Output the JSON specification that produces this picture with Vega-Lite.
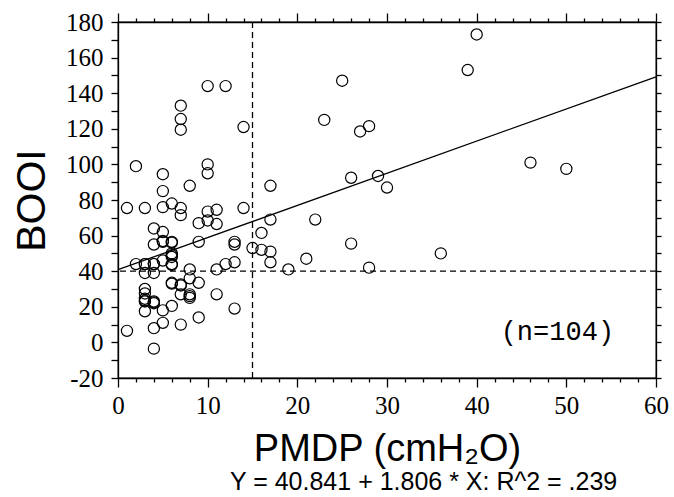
{
  "$schema": "https://vega.github.io/schema/vega-lite/v6.json",
  "width": 538,
  "height": 356,
  "autosize": "none",
  "padding": {"left": 118, "top": 22, "right": 18, "bottom": 119},
  "background": "white",
  "data": {"values": [{}]},
  "title": {
    "text": "Y = 40.841 + 1.806 * X: R^2 = .239",
    "orient": "bottom",
    "anchor": "start",
    "frame": "group",
    "dx": 112,
    "offset": 2,
    "font": "Liberation Sans",
    "fontSize": 25,
    "fontWeight": "normal",
    "color": "black"
  },
  "config": {
    "view": {"stroke": "black", "strokeWidth": 1.3},
    "axis": {
      "domainColor": "black",
      "domainWidth": 1.3,
      "tickColor": "black",
      "tickWidth": 1.3,
      "ticks": true,
      "grid": false,
      "labelFont": "Liberation Serif",
      "labelFontSize": 25,
      "labelColor": "black",
      "labelFlush": false,
      "labelOverlap": false,
      "titleFont": "Liberation Sans",
      "titleFontWeight": "normal",
      "titleColor": "black"
    }
  },
  "datasets": {
    "pts": [
      {"pmdp": 40, "booi": 173}, {"pmdp": 39, "booi": 153}, {"pmdp": 25, "booi": 147},
      {"pmdp": 10, "booi": 144}, {"pmdp": 12, "booi": 144}, {"pmdp": 7, "booi": 133},
      {"pmdp": 7, "booi": 125.5}, {"pmdp": 7, "booi": 119.5}, {"pmdp": 14, "booi": 121},
      {"pmdp": 23, "booi": 125}, {"pmdp": 27, "booi": 118.5}, {"pmdp": 28, "booi": 121.5},
      {"pmdp": 46, "booi": 101}, {"pmdp": 50, "booi": 97.5}, {"pmdp": 2, "booi": 99},
      {"pmdp": 10, "booi": 100}, {"pmdp": 10, "booi": 95}, {"pmdp": 5, "booi": 94.5},
      {"pmdp": 5, "booi": 85}, {"pmdp": 8, "booi": 88}, {"pmdp": 17, "booi": 88},
      {"pmdp": 26, "booi": 92.5}, {"pmdp": 29, "booi": 93.5}, {"pmdp": 30, "booi": 87},
      {"pmdp": 1, "booi": 75.5}, {"pmdp": 3, "booi": 75.5}, {"pmdp": 5, "booi": 76},
      {"pmdp": 6, "booi": 78}, {"pmdp": 7, "booi": 75.5}, {"pmdp": 7, "booi": 71.5},
      {"pmdp": 10, "booi": 73.5}, {"pmdp": 10, "booi": 68.5}, {"pmdp": 11, "booi": 74.5},
      {"pmdp": 11, "booi": 66.5}, {"pmdp": 9, "booi": 67}, {"pmdp": 14, "booi": 75.5},
      {"pmdp": 17, "booi": 69}, {"pmdp": 22, "booi": 69}, {"pmdp": 4, "booi": 64},
      {"pmdp": 5, "booi": 62}, {"pmdp": 16, "booi": 61.5}, {"pmdp": 4, "booi": 55},
      {"pmdp": 5, "booi": 57}, {"pmdp": 6, "booi": 56.5}, {"pmdp": 9, "booi": 56.5},
      {"pmdp": 13, "booi": 56.5}, {"pmdp": 13, "booi": 55}, {"pmdp": 26, "booi": 55.5},
      {"pmdp": 15, "booi": 53}, {"pmdp": 16, "booi": 52}, {"pmdp": 17, "booi": 51},
      {"pmdp": 36, "booi": 50}, {"pmdp": 21, "booi": 47}, {"pmdp": 17, "booi": 45},
      {"pmdp": 13, "booi": 45}, {"pmdp": 12, "booi": 44}, {"pmdp": 11, "booi": 41},
      {"pmdp": 19, "booi": 41}, {"pmdp": 28, "booi": 42}, {"pmdp": 2, "booi": 44},
      {"pmdp": 3, "booi": 44}, {"pmdp": 4, "booi": 44}, {"pmdp": 5, "booi": 46},
      {"pmdp": 6, "booi": 50}, {"pmdp": 6, "booi": 48}, {"pmdp": 6, "booi": 43.5},
      {"pmdp": 3, "booi": 39}, {"pmdp": 4, "booi": 39}, {"pmdp": 6, "booi": 33.5},
      {"pmdp": 7, "booi": 32}, {"pmdp": 8, "booi": 36}, {"pmdp": 8, "booi": 41},
      {"pmdp": 9, "booi": 33.5}, {"pmdp": 7, "booi": 27}, {"pmdp": 8, "booi": 27},
      {"pmdp": 8, "booi": 25}, {"pmdp": 3, "booi": 30}, {"pmdp": 3, "booi": 27.5},
      {"pmdp": 3, "booi": 24.5}, {"pmdp": 3, "booi": 23}, {"pmdp": 4, "booi": 23},
      {"pmdp": 4, "booi": 22}, {"pmdp": 3, "booi": 17.5}, {"pmdp": 5, "booi": 18},
      {"pmdp": 6, "booi": 20.5}, {"pmdp": 11, "booi": 27}, {"pmdp": 13, "booi": 19},
      {"pmdp": 5, "booi": 11}, {"pmdp": 4, "booi": 8}, {"pmdp": 7, "booi": 10},
      {"pmdp": 9, "booi": 14}, {"pmdp": 1, "booi": 6.5}, {"pmdp": 4, "booi": -3.5},
      {"pmdp": 6, "booi": 44}, {"pmdp": 6, "booi": 33}, {"pmdp": 3, "booi": 44},
      {"pmdp": 4, "booi": 44}, {"pmdp": 3, "booi": 23.5}, {"pmdp": 4, "booi": 22.5},
      {"pmdp": 6, "booi": 49}, {"pmdp": 5, "booi": 56.5}, {"pmdp": 7, "booi": 32.5},
      {"pmdp": 8, "booi": 26}, {"pmdp": 6, "booi": 56}
    ]
  },
  "layer": [
    {
      "data": {"name": "pts"},
      "mark": {"type": "point", "shape": "circle", "filled": false, "color": "black", "size": 125, "strokeWidth": 1.2, "opacity": 1},
      "encoding": {
        "x": {
          "field": "pmdp", "type": "quantitative",
          "scale": {"domain": [0, 60], "nice": false, "zero": false},
          "axis": {
            "orient": "bottom",
            "values": [0,2,4,6,8,10,12,14,16,18,20,22,24,26,28,30,32,34,36,38,40,42,44,46,48,50,52,54,56,58,60],
            "labelExpr": "datum.value % 10 === 0 ? '' + datum.value : ''",
            "tickSize": {"condition": {"test": "datum.value % 10 === 0", "value": 9}, "value": 4},
            "labelPadding": 6,
            "title": "PMDP (cmH₂O)",
            "titleFontSize": 38,
            "titlePadding": 12
          }
        },
        "y": {
          "field": "booi", "type": "quantitative",
          "scale": {"domain": [-20, 180], "nice": false, "zero": false},
          "axis": {
            "orient": "left",
            "values": [-20,-10,0,10,20,30,40,50,60,70,80,90,100,110,120,130,140,150,160,170,180],
            "labelExpr": "datum.value % 20 === 0 ? '' + datum.value : ''",
            "tickSize": 7,
            "labelPadding": 8,
            "title": "BOOI",
            "titleFontSize": 41,
            "titlePadding": 12
          }
        }
      }
    },
    {
      "data": {"name": "pts"},
      "mark": {"type": "point", "opacity": 0},
      "encoding": {
        "x": {
          "field": "pmdp", "type": "quantitative",
          "scale": {"domain": [0, 60], "nice": false, "zero": false},
          "axis": {
            "orient": "top",
            "values": [0,2,4,6,8,10,12,14,16,18,20,22,24,26,28,30,32,34,36,38,40,42,44,46,48,50,52,54,56,58,60],
            "labels": false,
            "ticks": true,
            "domain": true,
            "tickSize": {"condition": {"test": "datum.value % 10 === 0", "value": 9}, "value": 4},
            "title": null
          }
        },
        "y": {
          "field": "booi", "type": "quantitative",
          "scale": {"domain": [-20, 180], "nice": false, "zero": false},
          "axis": {
            "orient": "right",
            "values": [-20,-10,0,10,20,30,40,50,60,70,80,90,100,110,120,130,140,150,160,170,180],
            "labels": false,
            "ticks": true,
            "domain": true,
            "tickSize": 5,
            "title": null
          }
        }
      }
    },
    {
      "mark": {"type": "rule", "color": "black", "strokeWidth": 1.3, "strokeDash": [6, 4]},
      "encoding": {
        "x": {"datum": 15, "type": "quantitative", "axis": null}
      }
    },
    {
      "mark": {"type": "rule", "color": "black", "strokeWidth": 1.3, "strokeDash": [6, 4]},
      "encoding": {
        "y": {"datum": 40, "type": "quantitative", "axis": null}
      }
    },
    {
      "mark": {"type": "rule", "color": "black", "strokeWidth": 1.3},
      "encoding": {
        "x": {"datum": 0, "type": "quantitative", "axis": null},
        "y": {"datum": 40.841, "type": "quantitative", "axis": null},
        "x2": {"datum": 60},
        "y2": {"datum": 149.201}
      }
    },
    {
      "mark": {"type": "text", "font": "Liberation Mono", "fontSize": 27, "color": "black", "align": "center", "baseline": "middle"},
      "encoding": {
        "x": {"datum": 49, "type": "quantitative", "axis": null},
        "y": {"datum": 6, "type": "quantitative", "axis": null},
        "text": {"value": "(n=104)"}
      }
    }
  ],
  "resolve": {"axis": {"x": "independent", "y": "independent"}}
}
